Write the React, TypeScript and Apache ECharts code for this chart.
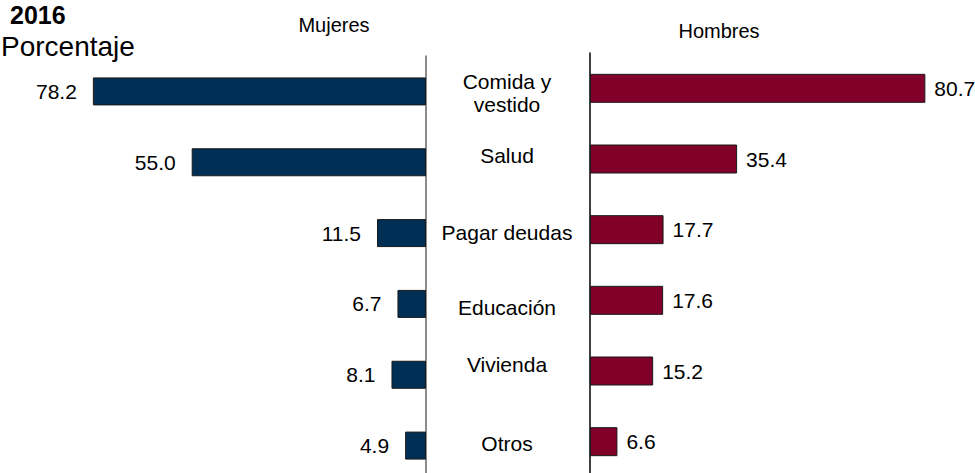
import React, { useEffect, useRef } from "react";
import * as echarts from "echarts";

const categories = ["Comida y\nvestido", "Salud", "Pagar deudas", "Educación", "Vivienda", "Otros"];
const mujeres = [78.2, 55.0, 11.5, 6.7, 8.1, 4.9];
const hombres = [80.7, 35.4, 17.7, 17.6, 15.2, 6.6];
const yearLabel = "2016";
const unitLabel = "Porcentaje";
const leftTitle = "Mujeres";
const rightTitle = "Hombres";

// vertical nudges of the category labels (px, + = down), styling only
const labelShift = [2, -7, -1, 4, -10, -2];

const FONT = '"Liberation Sans", Arial, sans-serif';
const NAVY = "#002f56";
const MAROON = "#800029";

export default function App() {
  const ref = useRef<HTMLDivElement>(null);
  useEffect(() => {
    if (!ref.current) return;
    const chart = echarts.init(ref.current, null, { renderer: "svg" });
    const rich: Record<string, any> = {};
    labelShift.forEach((s, i) => {
      rich["s" + i] = {
        fontSize: 21,
        fontFamily: FONT,
        color: "#000",
        lineHeight: 23,
        align: "center",
        padding: s >= 0 ? [2 * s, 0, 0, 0] : [0, 0, -2 * s, 0],
      };
    });
    chart.setOption({
      animation: false,
      textStyle: { fontFamily: FONT },
      grid: [
        { left: 0, width: 426, top: 56, height: 425, containLabel: false, outerBoundsMode: "none" },
        { left: 590, width: 374, top: 53, height: 424, containLabel: false, outerBoundsMode: "none" },
      ],
      xAxis: [
        { gridIndex: 0, type: "value", inverse: true, min: 0, max: 100, show: false },
        { gridIndex: 1, type: "value", min: 0, max: 90, show: false },
      ],
      yAxis: [
        {
          gridIndex: 0,
          type: "category",
          data: categories,
          inverse: true,
          position: "right",
          axisLine: { show: true, lineStyle: { color: "#666", width: 1.5 } },
          axisTick: { show: false },
          axisLabel: {
            show: true,
            margin: 81,
            align: "center",
            formatter: (v: string, i: number) =>
              v.split("\n").map((line) => `{s${i}|${line}}`).join("\n"),
            rich,
          },
        },
        {
          gridIndex: 1,
          type: "category",
          data: categories,
          inverse: true,
          position: "left",
          axisLine: { show: true, lineStyle: { color: "#000", width: 1.5 } },
          axisTick: { show: false },
          axisLabel: { show: false },
        },
      ],
      series: [
        {
          name: leftTitle,
          type: "bar",
          xAxisIndex: 0,
          yAxisIndex: 0,
          data: mujeres,
          barWidth: 28,
          itemStyle: { color: NAVY, borderColor: "#1a1a1a", borderWidth: 1 },
          label: {
            show: true,
            position: "left",
            distance: 16,
            formatter: (p: any) => p.value.toFixed(1),
            fontSize: 21,
            fontFamily: FONT,
            color: "#000",
          },
        },
        {
          name: rightTitle,
          type: "bar",
          xAxisIndex: 1,
          yAxisIndex: 1,
          data: hombres,
          barWidth: 29,
          itemStyle: { color: MAROON, borderColor: "#1a1a1a", borderWidth: 1 },
          label: {
            show: true,
            position: "right",
            distance: 9,
            formatter: (p: any) => p.value.toFixed(1),
            fontSize: 21,
            fontFamily: FONT,
            color: "#000",
          },
        },
      ],
      graphic: [
        {
          type: "text",
          x: 10,
          y: 15,
          style: { text: yearLabel, fontSize: 25, fontWeight: "bold", fontFamily: FONT, fill: "#000", verticalAlign: "middle" },
        },
        {
          type: "text",
          x: 1,
          y: 46,
          style: { text: unitLabel, fontSize: 28, fontFamily: FONT, fill: "#000", verticalAlign: "middle" },
        },
        {
          type: "text",
          x: 334,
          y: 25,
          style: { text: leftTitle, fontSize: 20, fontFamily: FONT, fill: "#000", align: "center", verticalAlign: "middle" },
        },
        {
          type: "text",
          x: 719,
          y: 31,
          style: { text: rightTitle, fontSize: 20, fontFamily: FONT, fill: "#000", align: "center", verticalAlign: "middle" },
        },
      ],
    });
    return () => chart.dispose();
  }, []);
  return (
    <div
      ref={ref}
      style={{ position: "fixed", left: 0, top: 0, width: 975, height: 473, background: "#fff" }}
    />
  );
}
